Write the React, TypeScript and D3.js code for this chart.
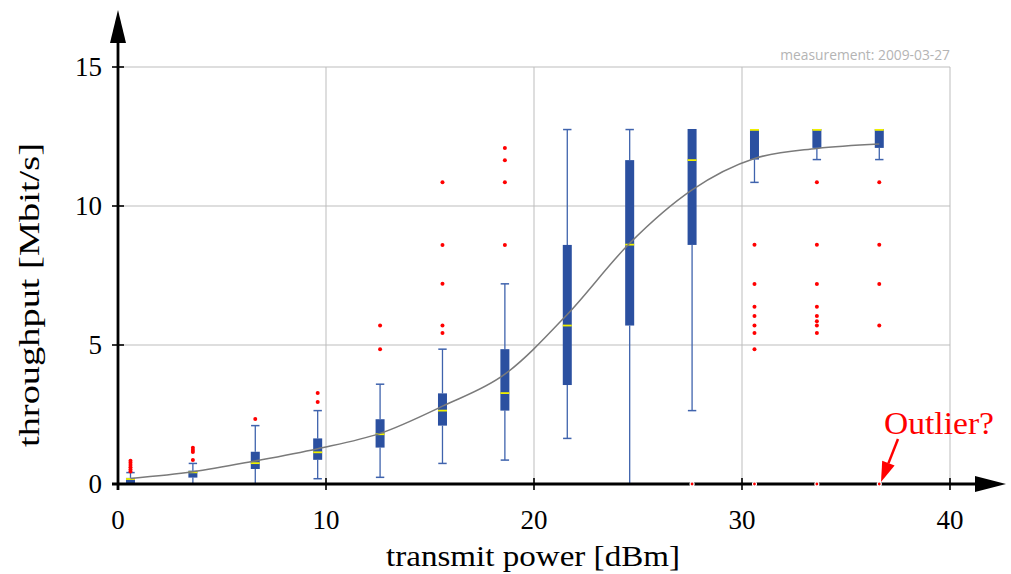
import React from "react";
import * as d3 from "d3";

const power = [0.6, 3.6, 6.6, 9.6, 12.6, 15.6, 18.6, 21.6, 24.6, 27.6, 30.6, 33.6, 36.6];
const whiskerLow = [0, 0, 0, 0.19, 0.24, 0.74, 0.86, 1.64, 0, 2.64, 10.85, 11.67, 11.67];
const q1 = [0, 0.23, 0.54, 0.87, 1.31, 2.1, 2.64, 3.56, 5.7, 8.6, 11.67, 12.09, 12.09];
const median = [0.18, 0.42, 0.75, 1.14, 1.79, 2.64, 3.27, 5.7, 8.61, 11.65, 12.77, 12.77, 12.77];
const q3 = [0.22, 0.48, 1.16, 1.64, 2.33, 3.26, 4.85, 8.6, 11.65, 12.77, 12.77, 12.77, 12.77];
const whiskerHigh = [0.41, 0.74, 2.1, 2.64, 3.59, 4.85, 7.2, 12.75, 12.75, 12.77, 12.77, 12.77, 12.77];
const outliers: number[][] = [
  [0.45, 0.52, 0.6, 0.68, 0.76, 0.84],
  [0.86, 1.15, 1.22, 1.3],
  [2.34],
  [2.95, 3.27],
  [4.85, 5.7],
  [5.43, 5.7, 7.2, 8.6, 10.85],
  [8.6, 10.85, 11.65, 12.09],
  [],
  [],
  [0],
  [8.61, 7.19, 6.38, 6.04, 5.7, 5.43, 4.85, 0],
  [10.85, 8.61, 7.19, 6.38, 6.04, 5.85, 5.7, 5.43, 0],
  [10.85, 8.61, 7.19, 5.7, 0],
];
const meanThroughput = [0.2, 0.44, 0.83, 1.27, 1.82, 2.8, 3.95, 6.1, 8.66, 10.58, 11.71, 12.07, 12.23];
const xTicks = [0, 10, 20, 30, 40];
const yTicks = [0, 5, 10, 15];

const W = 1011;
const H = 574;
const serif = "'Liberation Serif', 'Times New Roman', serif";

export default function App() {
  const x = d3.scaleLinear().domain([0, 40]).range([118, 950]);
  const y = d3.scaleLinear().domain([0, 15]).range([484, 67]);
  const bw = 4.5;
  const cw = 4.2;
  const blue = "#2b50a0";
  const whisk = "#3f63ad";

  const line = d3
    .line<number>()
    .x((_, i) => x(power[i]))
    .y((d) => y(d))
    .curve(d3.curveMonotoneX);

  const x0 = x(0);
  const y0 = y(0);

  return (
    <svg width={W} height={H} style={{ position: "absolute", left: 0, top: 0, background: "#fff" }}>
      {/* grid */}
      {yTicks.filter((t) => t > 0).map((t) => (
        <line key={"gy" + t} x1={x0} x2={x(40)} y1={y(t)} y2={y(t)} stroke="#bdbdbd" strokeWidth={1} />
      ))}
      {xTicks.filter((t) => t > 0).map((t) => (
        <line key={"gx" + t} x1={x(t)} x2={x(t)} y1={y(15)} y2={y0} stroke="#bdbdbd" strokeWidth={1} />
      ))}
      <text x={x(40)} y={y(15) - 7} textAnchor="end" fontFamily="'Open Sans', sans-serif" fontSize={13.8} fill="#b4b4b4">
        measurement: 2009-03-27
      </text>

      {/* boxes */}
      {power.map((p, i) => {
        const cx = x(p);
        const my = y(median[i]) + (median[i] === q3[i] ? 0.9 : 0);
        return (
          <g key={"b" + i}>
            <line x1={cx} x2={cx} y1={y(whiskerLow[i])} y2={y(q1[i])} stroke={whisk} strokeWidth={1.3} />
            <line x1={cx} x2={cx} y1={y(q3[i])} y2={y(whiskerHigh[i])} stroke={whisk} strokeWidth={1.3} />
            {whiskerHigh[i] > q3[i] && (
              <line x1={cx - cw} x2={cx + cw} y1={y(whiskerHigh[i])} y2={y(whiskerHigh[i])} stroke={whisk} strokeWidth={1.5} />
            )}
            {whiskerLow[i] < q1[i] && (
              <line x1={cx - cw} x2={cx + cw} y1={y(whiskerLow[i])} y2={y(whiskerLow[i])} stroke={whisk} strokeWidth={1.5} />
            )}
            <rect x={cx - bw} width={bw * 2} y={y(q3[i])} height={Math.max(y(q1[i]) - y(q3[i]), 0.5)} fill={blue} />
            <line x1={cx - bw} x2={cx + bw} y1={my} y2={my} stroke="#f0f000" strokeWidth={1.8} />
          </g>
        );
      })}

      {/* mean curve */}
      <path d={line(meanThroughput) || ""} fill="none" stroke="#7a7a7a" strokeWidth={1.5} />

      {/* outliers */}
      {power.map((p, i) =>
        outliers[i]
          .filter((v) => v > 0)
          .map((v, j) => <circle key={"o" + i + "_" + j} cx={x(p)} cy={y(v)} r={2} fill="#ff0000" />)
      )}

      {/* axes */}
      <line x1={x0 - 6} x2={990} y1={y0} y2={y0} stroke="#000" strokeWidth={2.8} />
      <path d={`M${1006},${y0} L${975},${y0 - 8} L${975},${y0 + 8} Z`} fill="#000" />
      <line x1={x0} x2={x0} y1={y0 + 6} y2={30} stroke="#000" strokeWidth={2.8} />
      <path d={`M${x0},${10} L${x0 - 8},${43} L${x0 + 8},${43} Z`} fill="#000" />
      {xTicks.map((t) => (
        <g key={"xt" + t}>
          <line x1={x(t)} x2={x(t)} y1={y0 - 6} y2={y0 + 6} stroke="#000" strokeWidth={1.6} />
          <text x={x(t)} y={y0 + 45} textAnchor="middle" fontFamily={serif} fontSize={27} fill="#000">
            {t}
          </text>
        </g>
      ))}
      {yTicks.map((t) => (
        <g key={"yt" + t}>
          <line x1={x0 - 6} x2={x0 + 6} y1={y(t)} y2={y(t)} stroke="#000" strokeWidth={1.6} />
          <text x={x0 - 16} y={y(t) + 9} textAnchor="end" fontFamily={serif} fontSize={27} fill="#000">
            {t}
          </text>
        </g>
      ))}

      {/* zero outliers on axis */}
      {power.map((p, i) =>
        outliers[i]
          .filter((v) => v === 0)
          .map((v, j) => (
            <circle key={"z" + i + "_" + j} cx={x(p)} cy={y(v)} r={2} fill="#ff0000" stroke="#fff" strokeWidth={1.2} />
          ))
      )}

      {/* axis titles */}
      <text x={533} y={566} textAnchor="middle" fontFamily={serif} fontSize={30} textLength={294} lengthAdjust="spacingAndGlyphs" fill="#000">
        transmit power [dBm]
      </text>
      <text transform={`translate(39,295) rotate(-90)`} textAnchor="middle" fontFamily={serif} fontSize={29} textLength={304} lengthAdjust="spacingAndGlyphs" fill="#000">
        throughput [Mbit/s]
      </text>

      {/* annotation */}
      <text x={884} y={434} fontFamily={serif} fontSize={31} textLength={110} lengthAdjust="spacingAndGlyphs" fill="#ff0000">
        Outlier?
      </text>
      <line x1={898} y1={439} x2={888.4} y2={463.4} stroke="#ff0000" strokeWidth={2.5} />
      <path d={`M881,482 L894.6,465.6 L882.2,460.8 Z`} fill="#ff0000" />
    </svg>
  );
}
